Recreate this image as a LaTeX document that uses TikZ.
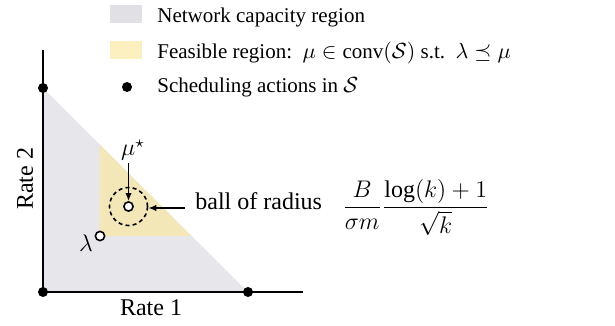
\documentclass[tikz,border=0pt]{standalone}
\usepackage{amsmath,amssymb}
\usepackage{fontspec}
\setmainfont{Liberation Serif}
\usetikzlibrary{arrows.meta}
\definecolor{capgray}{RGB}{231,231,235}
\definecolor{feasyellow}{RGB}{243,231,184}
\definecolor{legyellow}{RGB}{252,239,192}
\definecolor{leggray}{RGB}{225,225,229}
\begin{document}
\begin{tikzpicture}[x=0.5pt,y=-0.5pt,
  legfont/.style={font=\fontsize{10.5}{12.6}\selectfont},
  figfont/.style={font=\fontsize{12}{14.4}\selectfont},
  sched/.style={circle, fill=black, inner sep=0pt, minimum size=5pt},
  opendot/.style={circle, draw=black, fill=white, line width=0.8pt, inner sep=0pt, minimum size=4.6pt},
  ballstyle/.style={circle, draw=black, dash pattern=on 2pt off 1.6pt, line width=0.8pt, inner sep=0pt, minimum size=19pt},
  axis/.style={line width=1pt, black},
  pointer/.style={line width=0.75pt, -{Latex[length=4pt,width=3.2pt]}}
]
\useasboundingbox (0,0) rectangle (615,326);
% regions
\fill[capgray] (43,88) -- (43,292) -- (248,292) -- cycle;
\fill[feasyellow] (99.5,144.5) -- (99.5,236) -- (191.5,236) -- cycle;
% axes
\coordinate (ytop) at (43,50);
\coordinate (xend) at (303,292);
\coordinate (orig) at (43,292);
\draw[axis] (ytop) -- (orig) -- (xend);
% scheduling actions
\node[sched] (s2) at (43,88) {};
\node[sched] (s0) at (43,292) {};
\node[sched] (s1) at (248,292) {};
% axis labels
\node[figfont, rotate=90] (r2) at (25,179) {Rate 2};
\node[figfont] (r1) at (151,308) {Rate 1};
% lambda and mu*
\node[opendot] (lam) at (100,236) {};
\node[figfont] (laml) at (86,243) {$\lambda$};
\node[ballstyle] (ball) at (128.5,206.5) {};
\node[opendot] (mu) at (128.5,206.5) {};
\node[figfont] (mul) at (133,150) {$\mu^\star$};
\coordinate (mstart) at (128.5,163);
\draw[pointer] (mstart) -- (mu.north);
% ball of radius label
\node[figfont, anchor=base west, inner sep=0pt] (balltxt) at (195,209.5) {ball of radius};
\node[figfont, anchor=base west, inner sep=0pt] (radius) at (342,213.5) {$\dfrac{B}{\sigma m}\dfrac{\log(k)+1}{\sqrt{k}}$};
\coordinate (arrstart) at (185,208);
\draw[pointer] (arrstart) -- (ball.east |- arrstart);
% legend
\fill[leggray] (110,5) rectangle (142,23);
\fill[legyellow] (110,41) rectangle (142,59);
\node[sched] (legdot) at (127,87) {};
\node[legfont, anchor=base west, inner sep=0pt] (l1) at (157,22.5) {Network capacity region};
\node[legfont, anchor=base west, inner sep=0pt] (l2) at (157,59) {Feasible region:\, $\mu\in\mathrm{conv}(\mathcal{S})$ s.t.\, $\lambda\preceq\mu$};
\node[legfont, anchor=base west, inner sep=0pt] (l3) at (157,92.5) {Scheduling actions in $\mathcal{S}$};
\end{tikzpicture}
\end{document}
